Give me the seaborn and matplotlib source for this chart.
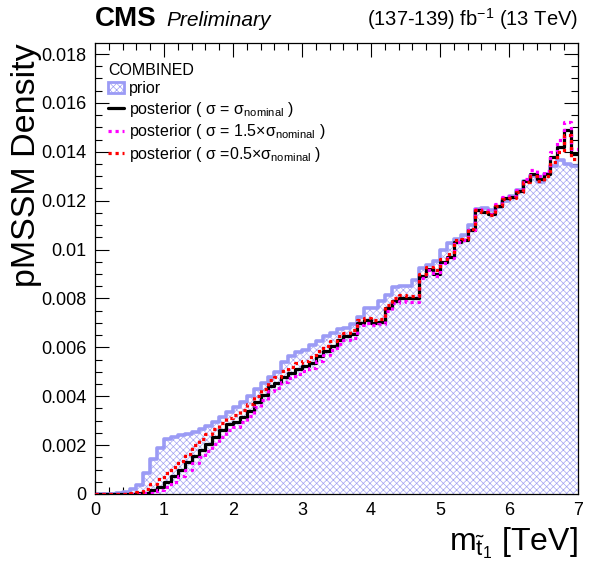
import numpy as np
import pandas as pd
import seaborn as sns
import matplotlib
matplotlib.use('Agg')
import matplotlib.pyplot as plt
from matplotlib.ticker import MultipleLocator, FuncFormatter
from matplotlib.lines import Line2D
from matplotlib.patches import Patch

# bin edges in TeV (70 bins of 0.1 TeV)
edges = np.round(np.arange(0, 7.01, 0.1), 2)

# densities, in units of 1e-3
prior = [0.00, 0.00, 0.01, 0.03, 0.08, 0.20, 0.35, 0.85, 1.45, 1.90,
         2.25, 2.35, 2.40, 2.45, 2.55, 2.65, 2.80, 2.95, 3.15, 3.35,
         3.55, 3.75, 4.00, 4.30, 4.55, 4.80, 5.00, 5.40, 5.65, 5.80,
         5.90, 6.10, 6.25, 6.45, 6.60, 6.75, 6.80, 6.95, 7.25, 7.60,
         7.60, 7.90, 8.15, 8.45, 8.50, 8.50, 8.75, 9.25, 9.35, 9.55,
         10.0, 10.25, 10.45, 10.6, 11.0, 11.65, 11.7, 11.6, 11.75, 12.0,
         12.2, 12.45, 12.8, 13.0, 12.75, 13.1, 13.4, 13.65, 13.5, 13.4]
post_nom = [0.00, 0.00, 0.00, 0.00, 0.00, 0.00, 0.02, 0.05, 0.15, 0.30,
            0.50, 0.75, 1.00, 1.30, 1.55, 1.80, 2.05, 2.35, 2.60, 2.85,
            2.95, 3.15, 3.40, 3.75, 4.05, 4.40, 4.55, 4.80, 4.95, 5.10,
            5.25, 5.35, 5.65, 5.85, 6.05, 6.30, 6.45, 6.55, 7.00, 7.10,
            7.00, 7.05, 7.60, 7.90, 8.00, 8.00, 8.00, 8.90, 9.20, 9.00,
            9.50, 9.70, 10.3, 10.4, 10.8, 11.6, 11.55, 11.45, 11.8, 12.1,
            12.15, 12.4, 12.8, 13.1, 12.9, 13.1, 13.8, 14.2, 14.9, 13.9]
post_wide = [0.00, 0.00, 0.00, 0.00, 0.00, 0.00, 0.00, 0.02, 0.06, 0.15,
             0.30, 0.50, 0.75, 1.00, 1.25, 1.50, 1.75, 2.05, 2.35, 2.60,
             2.75, 2.95, 3.20, 3.55, 3.85, 4.20, 4.35, 4.60, 4.75, 4.90,
             5.05, 5.15, 5.45, 5.70, 5.90, 6.15, 6.30, 6.40, 6.90, 7.00,
             6.90, 6.95, 7.50, 7.80, 7.90, 7.85, 7.85, 8.85, 9.15, 8.90,
             9.45, 9.65, 10.3, 10.4, 10.8, 11.65, 11.6, 11.45, 11.85, 12.15,
             12.2, 12.45, 12.9, 13.25, 13.0, 13.2, 14.0, 14.5, 15.2, 14.1]
post_narrow = [0.00, 0.00, 0.00, 0.00, 0.00, 0.02, 0.08, 0.20, 0.40, 0.60,
               0.85, 1.10, 1.35, 1.65, 2.00, 2.25, 2.45, 2.65, 2.90, 3.10,
               3.25, 3.45, 3.70, 4.00, 4.30, 4.65, 4.80, 5.05, 5.20, 5.35,
               5.45, 5.60, 5.85, 6.05, 6.25, 6.45, 6.60, 6.70, 7.10, 7.20,
               7.10, 7.15, 7.75, 8.00, 8.15, 8.10, 8.10, 9.00, 9.30, 9.15,
               9.60, 9.80, 10.4, 10.45, 10.85, 11.6, 11.55, 11.4, 11.8, 12.05,
               12.1, 12.35, 12.75, 13.0, 12.8, 13.0, 13.6, 14.0, 14.7, 13.7]

labels = ['prior',
          'posterior ( σ = σ$_{\\mathregular{nominal}}$ )',
          'posterior ( σ = 1.5×σ$_{\\mathregular{nominal}}$ )',
          'posterior ( σ =0.5×σ$_{\\mathregular{nominal}}$ )']

def step_frame(vals):
    # repeat last bin so the step reaches the right edge
    y = np.array(list(vals) + [vals[-1]]) * 1e-3
    return pd.DataFrame({'x': edges, 'y': y})

sns.set_theme(style='ticks')
plt.rcParams['font.family'] = ['Liberation Sans', 'DejaVu Sans']
plt.rcParams['mathtext.fontset'] = 'custom'
plt.rcParams['mathtext.rm'] = 'Liberation Sans'
plt.rcParams['mathtext.it'] = 'Liberation Sans:italic'
plt.rcParams['mathtext.bf'] = 'Liberation Sans:bold'
plt.rcParams['hatch.linewidth'] = 0.5
plt.rcParams['hatch.color'] = '#a3a3f2'
for k in ['text.color', 'axes.labelcolor', 'xtick.color', 'ytick.color']:
    plt.rcParams[k] = 'black'

prior_col = '#9b9bf5'
dots = (0, (1, 1.2))

fig = plt.figure(figsize=(5.96, 5.72), dpi=100)
ax = fig.add_axes([0.1594, 0.1364, 0.8104, 0.7884])

pr = step_frame(prior)
ax.fill_between(pr['x'], pr['y'], step='post', facecolor='white',
                edgecolor='#a3a3f2', hatch='xxxxx', linewidth=0, zorder=1)
sns.lineplot(data=pr, x='x', y='y', drawstyle='steps-post', color=prior_col,
             lw=2.6, ax=ax, zorder=2)
sns.lineplot(data=step_frame(post_nom), x='x', y='y', drawstyle='steps-post',
             color='black', lw=2.3, ax=ax, zorder=3)
sns.lineplot(data=step_frame(post_wide), x='x', y='y', drawstyle='steps-post',
             color='#ff00ff', lw=2.3, ls=dots, ax=ax, zorder=4)
sns.lineplot(data=step_frame(post_narrow), x='x', y='y', drawstyle='steps-post',
             color='#ff0000', lw=2.3, ls=dots, ax=ax, zorder=5)

ax.set_xlim(0, 7)
ax.set_ylim(0, 0.01845)
ax.xaxis.set_major_locator(MultipleLocator(1))
ax.xaxis.set_minor_locator(MultipleLocator(0.2))
ax.yaxis.set_major_locator(MultipleLocator(0.002))
ax.yaxis.set_minor_locator(MultipleLocator(0.0005))
ax.yaxis.set_major_formatter(FuncFormatter(lambda v, p: '%g' % round(v, 4)))
ax.tick_params(which='both', direction='in', top=True, right=True,
               labelsize=13, width=0.8, colors='black')
ax.tick_params(which='major', length=10, pad=6)
ax.tick_params(which='minor', length=5)
for s in ax.spines.values():
    s.set_linewidth(0.9)
    s.set_color('black')

ax.set_xlabel(r'$\mathregular{m_{\tilde{t}_1}}$ [TeV]', fontsize=23, loc='right', labelpad=4)
ax.set_ylabel('pMSSM Density', fontsize=24.5, loc='top')
ax.yaxis.set_label_coords(-0.11, 1.0)

handles = [
    Patch(facecolor='white', edgecolor=prior_col, hatch='xxxxx', lw=2),
    Line2D([], [], color='black', lw=2.3),
    Line2D([], [], color='#ff00ff', lw=2.3, ls=dots),
    Line2D([], [], color='#ff0000', lw=2.3, ls=dots),
]
leg = ax.legend(handles, labels, loc='upper left', bbox_to_anchor=(0.0, 0.985),
                frameon=False, fontsize=11.5, title='COMBINED', title_fontsize=11.5,
                handlelength=1.0, handletextpad=0.3, labelspacing=0.22,
                borderaxespad=0.4)
leg._legend_box.align = 'left'

fig.text(0.1594, 0.955, 'CMS', fontsize=20, fontweight='bold', ha='left', va='baseline')
fig.text(0.279, 0.955, 'Preliminary', fontsize=15, style='italic', ha='left', va='baseline')
fig.text(0.9698, 0.955, r'(137-139) fb$^{-1}$ (13 TeV)', fontsize=14.5, ha='right', va='baseline')

fig.savefig('out.png', dpi=100)
